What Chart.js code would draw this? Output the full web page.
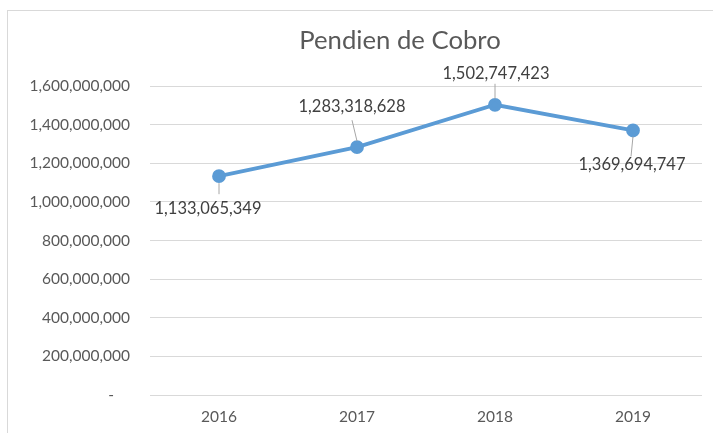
<!DOCTYPE html>
<html>
<head>
<meta charset="utf-8">
<script src="https://cdn.jsdelivr.net/npm/chart.js@4"></script>
<style>
  html, body { margin: 0; padding: 0; background: #fff; overflow: hidden; }
  #wrap { position: relative; width: 713px; height: 433px; }
  #frame { position: absolute; left: 7px; top: 10px; width: 800px; height: 600px; border: 1px solid #d9d9d9; box-sizing: border-box; }
  canvas { position: absolute; left: 0; top: 0; }
</style>
</head>
<body>
<div id="wrap">
  <div id="frame"></div>
  <canvas id="c" width="713" height="433"></canvas>
</div>
<script>
const titleText = "Pendien de Cobro";
const categories = ["2016", "2017", "2018", "2019"];
const values = [1133065349, 1283318628, 1502747423, 1369694747];
const yMin = 0;
const yMax = 1600000000;
const yStep = 200000000;

// label placement relative to each point (style, not data)
const labelOffsets = [
  { dx: -11, dy: 32, lineFrom: 7, lineTo: 18, lineDx: 0 },
  { dx: -5, dy: -40, lineFrom: 6, lineTo: 27, lineDx: -5 },
  { dx: 1, dy: -31, lineFrom: 6, lineTo: 21, lineDx: 0 },
  { dx: -1, dy: 34, lineFrom: 6, lineTo: 26, lineDx: -2 }
];

const FONT = "Lato, 'Open Sans', sans-serif";
const fmt = v => v.toLocaleString('en-US');

const titleDraw = {
  id: 'titleDraw',
  afterDraw(chart) {
    const ctx = chart.ctx;
    ctx.save();
    ctx.fillStyle = '#595959';
    ctx.font = "25.7px " + FONT;
    ctx.textAlign = 'center';
    ctx.textBaseline = 'middle';
    ctx.fillText(titleText, 400, 41);
    ctx.restore();
  }
};

const dataLabels = {
  id: 'dataLabels',
  afterDatasetsDraw(chart) {
    const ctx = chart.ctx;
    const meta = chart.getDatasetMeta(0);
    ctx.save();
    meta.data.forEach((pt, i) => {
      const o = labelOffsets[i];
      const lx = pt.x + o.dx, ly = pt.y + o.dy;
      const sign = o.dy > 0 ? 1 : -1;
      const x1 = pt.x, y1 = pt.y + sign * o.lineFrom;
      const x2 = pt.x + o.lineDx, y2 = pt.y + sign * o.lineTo;
      ctx.strokeStyle = '#a6a6a6';
      ctx.lineWidth = 1;
      ctx.beginPath();
      ctx.moveTo(x1, y1);
      ctx.lineTo(x2, y2);
      ctx.stroke();
      ctx.fillStyle = '#404040';
      ctx.font = "16.5px " + FONT;
      ctx.textAlign = 'center';
      ctx.textBaseline = 'middle';
      ctx.fillText(fmt(values[i]), lx, ly);
    });
    ctx.restore();
  }
};

new Chart(document.getElementById('c'), {
  type: 'line',
  data: {
    labels: categories,
    datasets: [{
      data: values,
      borderColor: '#5b9bd5',
      backgroundColor: '#5b9bd5',
      borderWidth: 3.8,
      pointRadius: 5,
      pointHoverRadius: 5,
      pointBackgroundColor: '#5b9bd5',
      pointBorderColor: '#5b9bd5',
      tension: 0,
      fill: false
    }]
  },
  options: {
    responsive: false,
    animation: false,
    events: [],
    layout: { padding: { left: 0, right: 11, top: 86, bottom: 0 } },
    plugins: {
      legend: { display: false },
      tooltip: { enabled: false },
      title: { display: false }
    },
    scales: {
      x: {
        offset: true,
        grid: { display: false, drawTicks: false },
        border: { display: false },
        ticks: { color: '#595959', font: { family: FONT, size: 15.5 }, padding: 13 },
        afterFit(s) { s.height = 38; }
      },
      y: {
        min: yMin,
        max: yMax,
        grid: { color: '#d9d9d9', drawTicks: false, lineWidth: 1 },
        border: { display: false },
        ticks: {
          stepSize: yStep,
          color: '#595959',
          font: { family: FONT, size: 15.5 },
          padding: 20,
          callback: v => v === 0 ? '-    ' : fmt(v)
        },
        afterFit(s) { s.width = 150; }
      }
    }
  },
  plugins: [dataLabels, titleDraw]
});
</script>
</body>
</html>
